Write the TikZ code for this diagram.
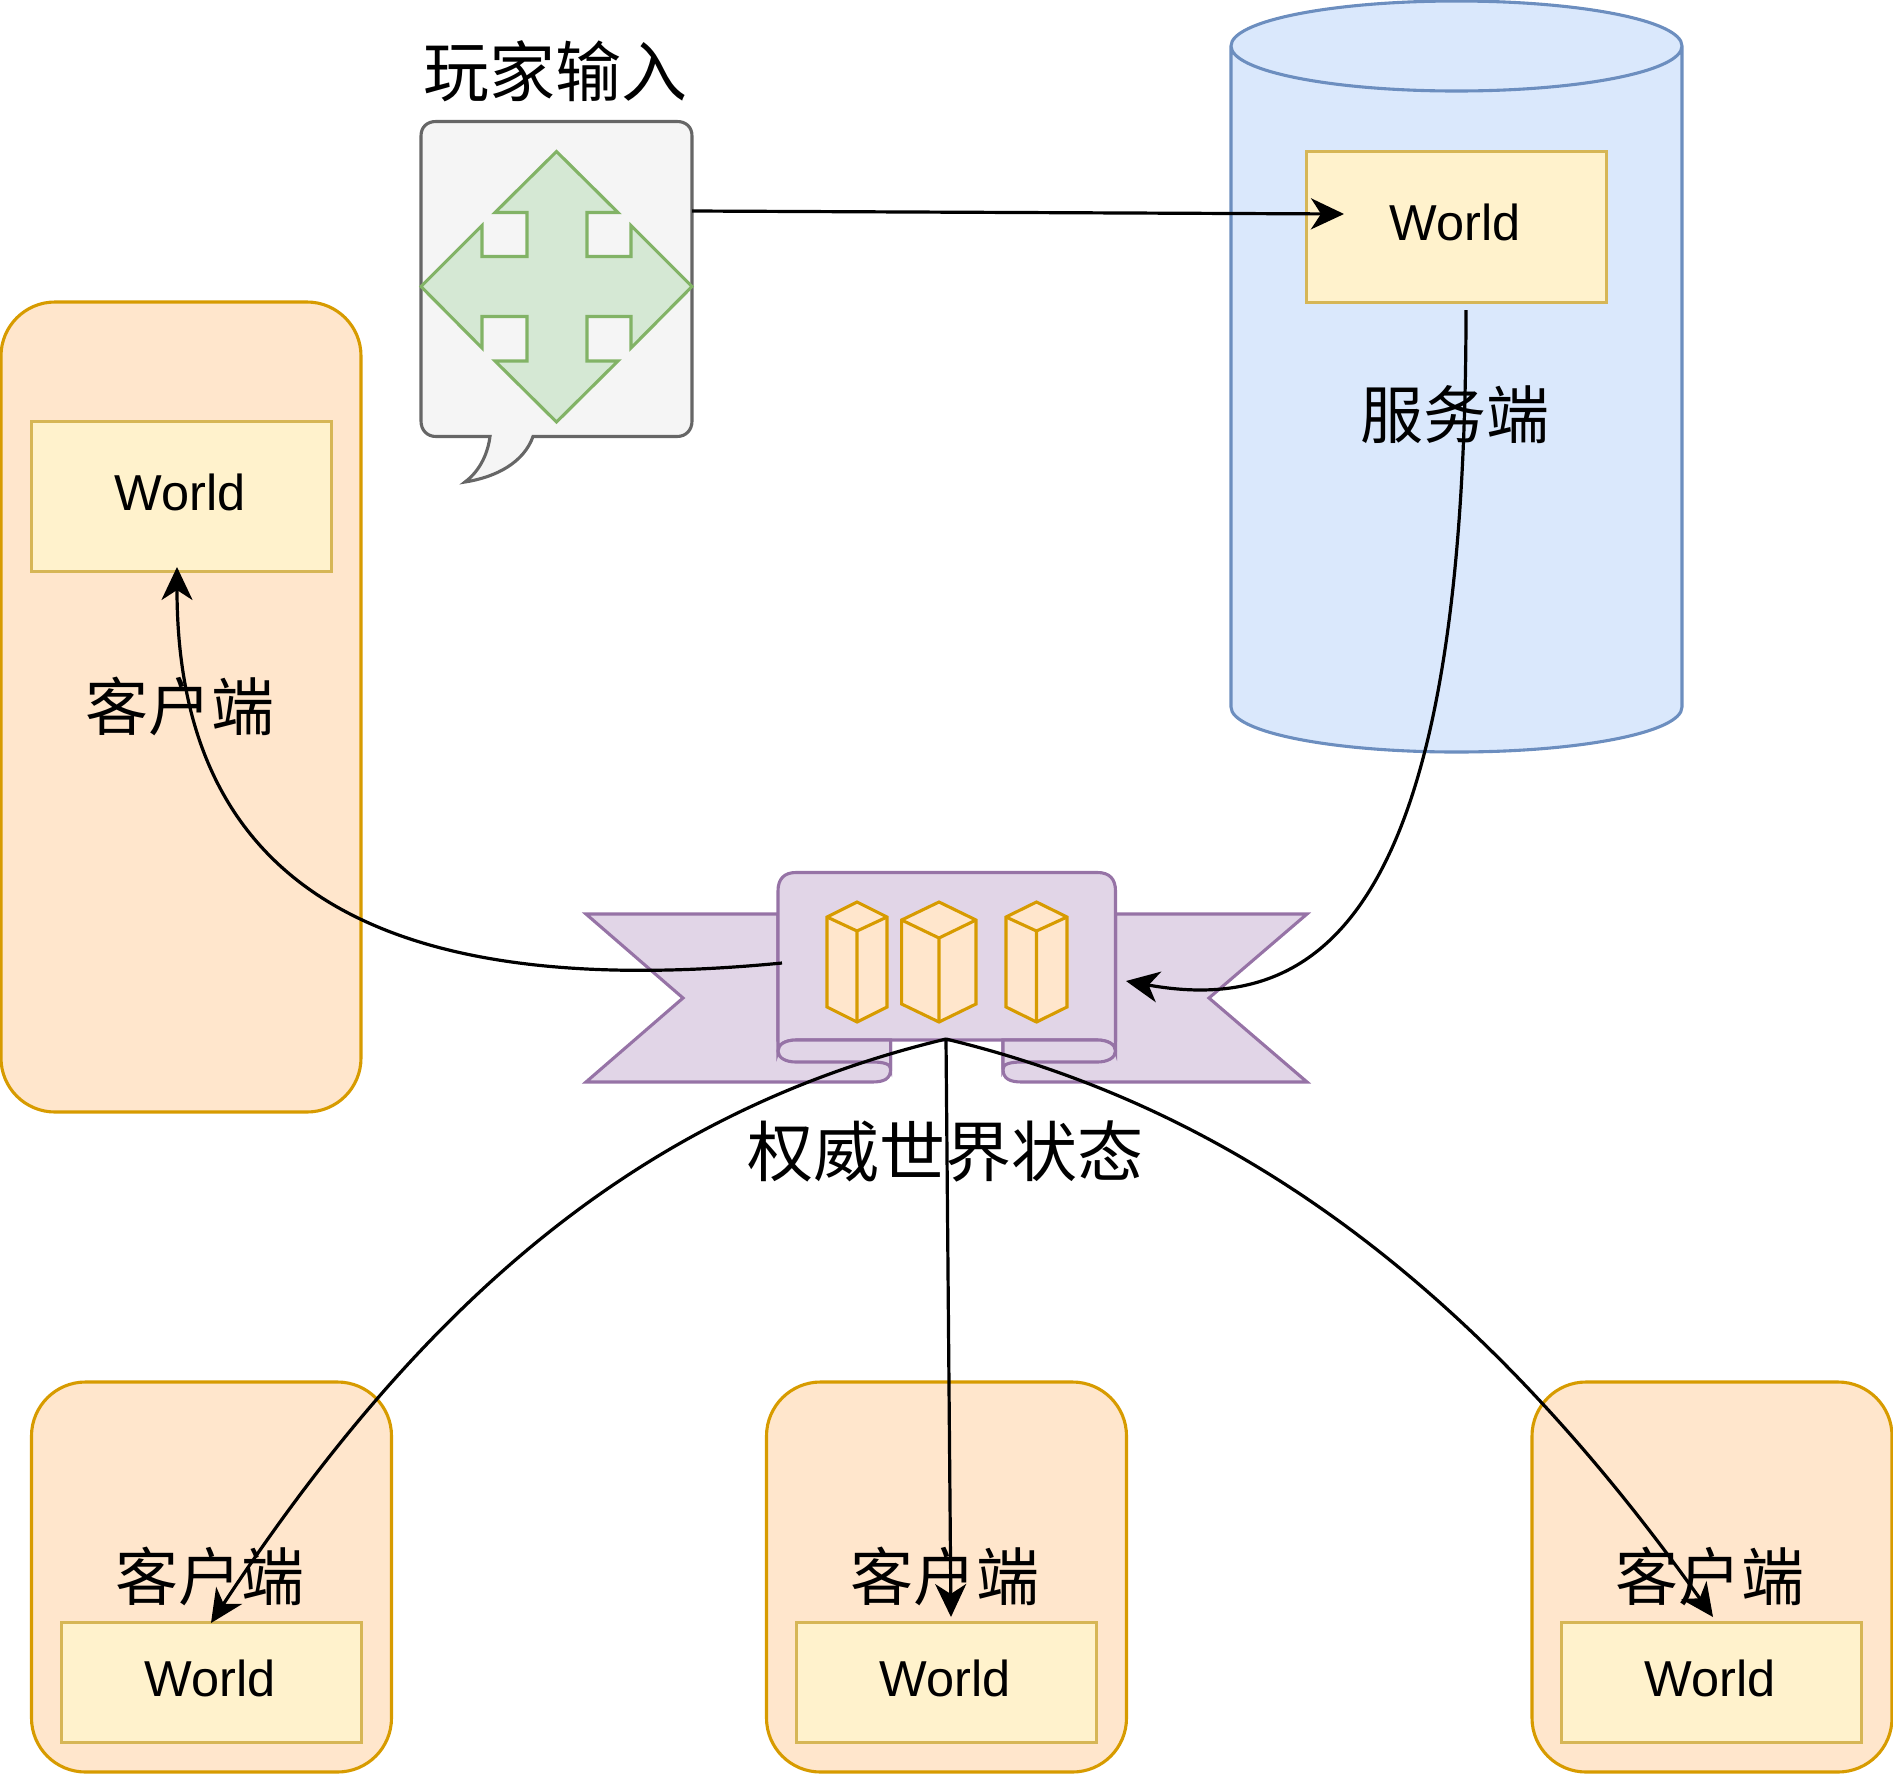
\documentclass[tikz,border=0pt]{standalone}
\usepackage{fontspec}
\setmainfont{Liberation Sans}
\newfontfamily\cjk{Noto Sans CJK SC}
\usetikzlibrary{arrows.meta}
\definecolor{yfill}{HTML}{FFF2CC}\definecolor{ydraw}{HTML}{D6B656}
\definecolor{bfill}{HTML}{DAE8FC}\definecolor{bdraw}{HTML}{6C8EBF}
\definecolor{ofill}{HTML}{FFE6CC}\definecolor{odraw}{HTML}{D79B00}
\definecolor{pfill}{HTML}{E1D5E7}\definecolor{pdraw}{HTML}{9673A6}
\definecolor{gfill}{HTML}{D5E8D4}\definecolor{gdraw}{HTML}{82B366}
\definecolor{cfill}{HTML}{F5F5F5}\definecolor{cdraw}{HTML}{666666}
\tikzset{
  base/.style={line width=3.1pt,line join=miter},
  worldbox/.style={base,draw=ydraw,fill=yfill,minimum width=300pt,inner sep=0pt},
  clientbox/.style={base,draw=odraw,fill=ofill,rounded corners=54pt,minimum width=360pt,inner sep=0pt},
  worldtext/.style={font=\fontsize{50.5pt}{50.5pt}\selectfont,inner sep=0pt},
  cjktext/.style={font=\fontsize{63pt}{63pt}\selectfont\cjk,inner sep=0pt},
  cjklarge/.style={font=\fontsize{66pt}{66pt}\selectfont\cjk,inner sep=0pt},
  ribbon/.style={base,draw=pdraw,fill=pfill},
  cube/.style={base,draw=odraw,fill=ofill},
  cubeline/.style={base,draw=odraw},
  link/.style={line width=3.2pt,draw=black,-{Stealth[length=33pt,width=31pt,inset=10pt]}},
}
\begin{document}
\begin{tikzpicture}[x=1pt,y=-1pt]
\useasboundingbox (0,0) rectangle (1893,1773);
% server cylinder
\path[base,draw=bdraw,fill=bfill] (1231,46) -- (1231,707) .. controls (1231,732) and (1331,752) .. (1456.5,752) .. controls (1582,752) and (1682,732) .. (1682,707) -- (1682,46) .. controls (1682,21) and (1582,1) .. (1456.5,1) .. controls (1331,1) and (1231,21) .. (1231,46) .. controls (1231,71) and (1331,91) .. (1456.5,91) .. controls (1582,91) and (1682,71) .. (1682,46);
\node[worldbox,minimum height=151pt] (ws) at (1456.5,227) {};
\node[worldtext] (wst) at (1455,222) {World};
\node[cjktext] (server) at (1455,415) {服务端};
% left client
\node[clientbox,minimum height=810pt] (cl) at (181,707) {};
\node[worldbox,minimum height=150pt] (wl) at (181.5,496.5) {};
\node[worldtext] (wlt) at (180,492) {World};
\node[cjktext] (lclient) at (180,706) {客户端};
% bottom clients
\node[clientbox,minimum height=390pt] (c1) at (211.5,1577) {};
\node[worldbox,minimum height=120pt] (w1) at (211.5,1682.5) {};
\node[worldtext] (w1t) at (210,1678) {World};
\node[cjktext] (c1t) at (210,1576) {客户端};
\node[clientbox,minimum height=390pt] (c2) at (946.5,1577) {};
\node[worldbox,minimum height=120pt] (w2) at (946.5,1682.5) {};
\node[worldtext] (w2t) at (945,1678) {World};
\node[cjktext] (c2t) at (945,1576) {客户端};
\node[clientbox,minimum height=390pt] (c3) at (1712,1577) {};
\node[worldbox,minimum height=120pt] (w3) at (1711.5,1682.5) {};
\node[worldtext] (w3t) at (1710,1678) {World};
\node[cjktext] (c3t) at (1710,1576) {客户端};
% player input
\node[cjklarge] (input) at (555,71) {玩家输入};
\path[line width=3.1pt,draw=cdraw,fill=cfill,line join=miter] (436,121.5) -- (677,121.5) .. controls (686,121.5) and (692,127) .. (692,136) -- (692,421) .. controls (692,430) and (686,436.5) .. (677,436.5) -- (533,436.5) .. controls (524,462) and (497,477) .. (465,482) .. controls (481,470) and (488,452) .. (490,436.5) -- (436,436.5) .. controls (427,436.5) and (421,430) .. (421,421) -- (421,136) .. controls (421,127) and (427,121.5) .. (436,121.5) -- cycle;
\path[base,draw=gdraw,fill=gfill] (556.5,151.5) -- (618,212.5) -- (587,212.5) -- (587,256.5) -- (631,256.5) -- (631,225.5) -- (692,286.5) -- (631,348) -- (631,316.5) -- (587,316.5) -- (587,361) -- (618,361) -- (556.5,422) -- (495,361) -- (527,361) -- (527,316.5) -- (482,316.5) -- (482,348) -- (421,286.5) -- (482,225.5) -- (482,256.5) -- (527,256.5) -- (527,212.5) -- (495,212.5) -- cycle;
% ribbon
\path[ribbon] (778,914) -- (586,914) -- (683,998) -- (586,1082) -- (872,1082) .. controls (884,1082) and (890.6,1079) .. (890.6,1069) -- (890.6,1040) -- (778,1040) -- cycle;
\path[ribbon] (1115.5,914) -- (1307,914) -- (1209,998) -- (1307,1082) -- (1022,1082) .. controls (1010,1082) and (1003,1079) .. (1003,1069) -- (1003,1040) -- (1115.5,1040) -- cycle;
\path[ribbon] (778,1051) -- (778,891) .. controls (778,879) and (784,872.5) .. (796,872.5) -- (1097.5,872.5) .. controls (1109.5,872.5) and (1115.5,879) .. (1115.5,891) -- (1115.5,1051) .. controls (1115.5,1044) and (1107,1040) .. (1097.5,1040) -- (796,1040) .. controls (786,1040) and (778,1044) .. (778,1051) -- cycle;
\path[ribbon] (778,1051) .. controls (778,1058) and (786,1062) .. (796,1062) -- (872,1062) .. controls (884,1062) and (890.6,1064) .. (890.6,1069) -- (890.6,1040) -- (796,1040) .. controls (786,1040) and (778,1044) .. (778,1051) -- cycle;
\path[ribbon] (1115.5,1051) .. controls (1115.5,1058) and (1107,1062) .. (1097.5,1062) -- (1022,1062) .. controls (1010,1062) and (1003,1064) .. (1003,1069) -- (1003,1040) -- (1097.5,1040) .. controls (1107,1040) and (1115.5,1044) .. (1115.5,1051) -- cycle;
% cuboids
\path[cube] (857,902) -- (887,917) -- (887,1007) -- (857,1022) -- (827,1007) -- (827,917) -- cycle;
\path[cubeline] (827,917) -- (857,931) -- (887,917) (857,931) -- (857,1022);
\path[cube] (939,902) -- (976,920) -- (976,1004) -- (939,1022) -- (901.6,1004) -- (901.6,920) -- cycle;
\path[cubeline] (901.6,920) -- (939,938) -- (976,920) (939,938) -- (939,1022);
\path[cube] (1036.5,902) -- (1067,917) -- (1067,1007) -- (1036.5,1022) -- (1006,1007) -- (1006,917) -- cycle;
\path[cubeline] (1006,917) -- (1036.5,931) -- (1067,917) (1036.5,931) -- (1036.5,1022);
\node[cjklarge] (state) at (945,1151) {权威世界状态};
% connector ends
\coordinate (inputOut) at (692,211);
\coordinate (wsIn) at (1344,214);
\coordinate (wsOut) at (1466,310);
\coordinate (ribbonIn) at (1126,981);
\coordinate (ribbonOut) at (782,963);
\coordinate (wlIn) at (177,567);
\coordinate (ribbonBot) at (946,1039);
\coordinate (w1In) at (211,1623);
\coordinate (w2In) at (951,1617);
\coordinate (w3In) at (1713,1617);
% connectors
\draw[link] (inputOut) -- (wsIn);
\draw[link] (wsOut) .. controls (1466,900) and (1330,1018) .. (ribbonIn);
\draw[link] (ribbonOut) .. controls (400,1000) and (177,900) .. (wlIn);
\draw[link] (ribbonBot) .. controls (650,1110) and (430,1290) .. (w1In);
\draw[link] (ribbonBot) -- (w2In);
\draw[link] (ribbonBot) .. controls (1240,1110) and (1480,1290) .. (w3In);
\end{tikzpicture}
\end{document}
